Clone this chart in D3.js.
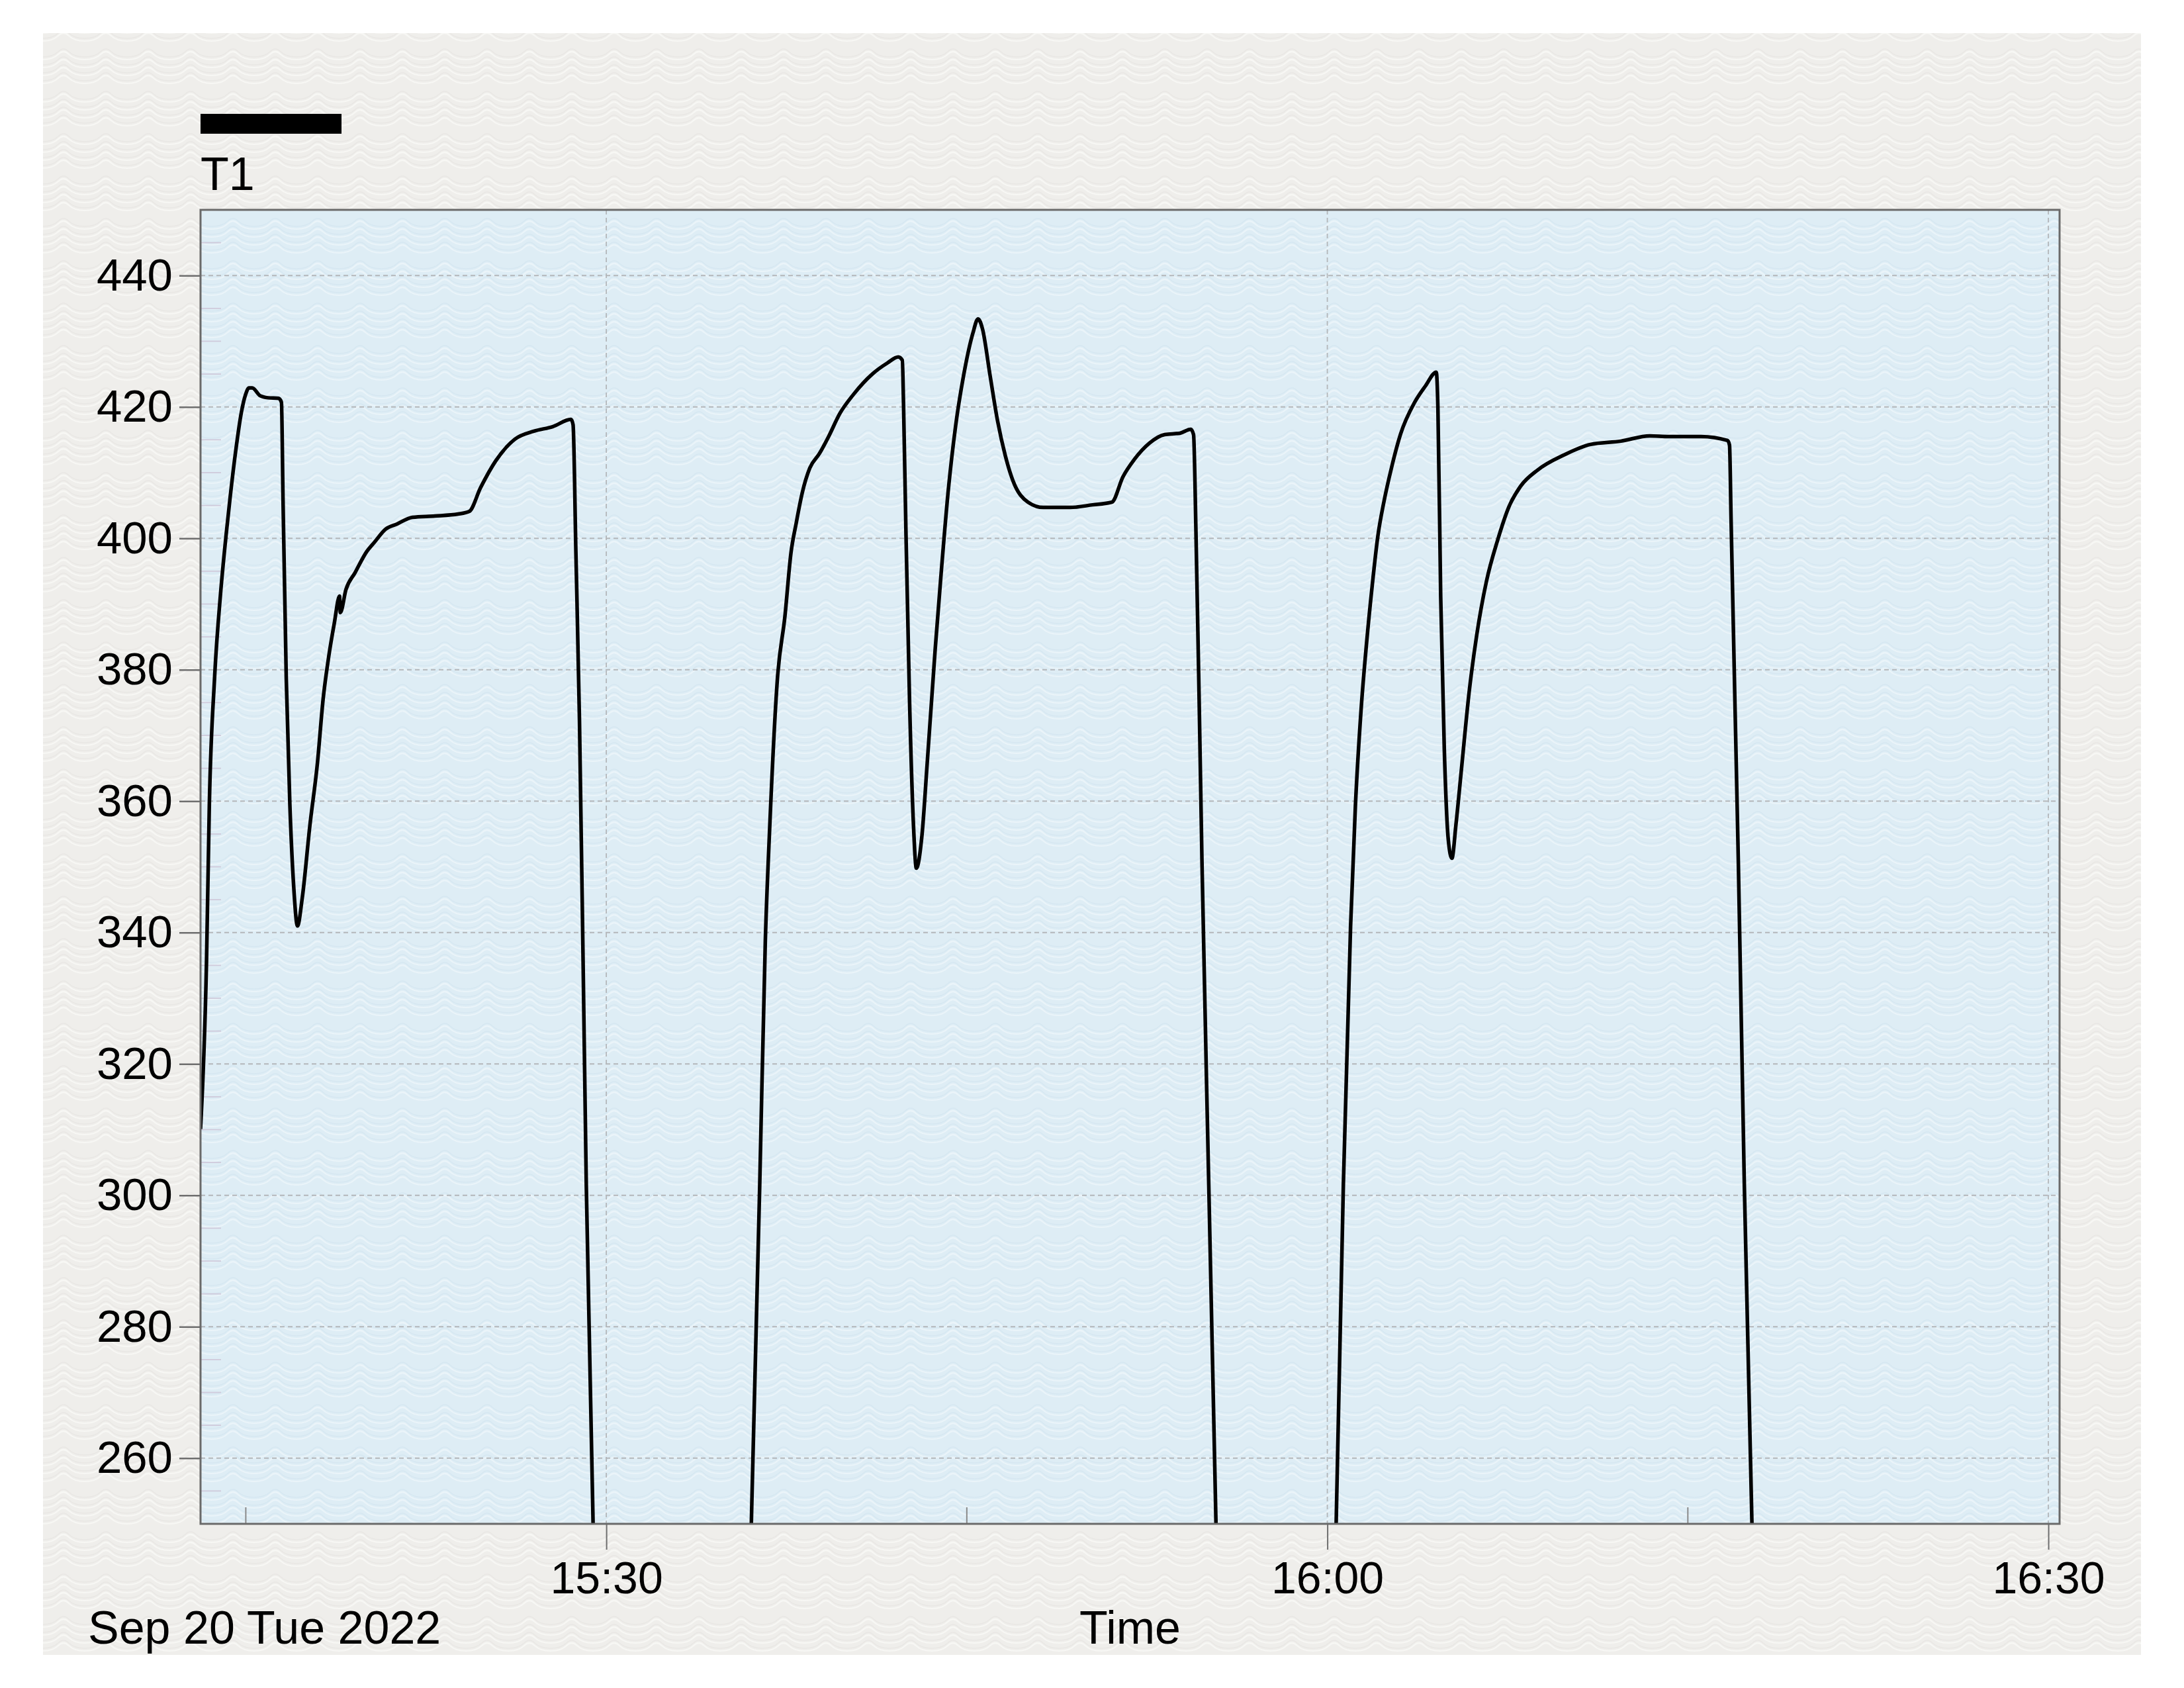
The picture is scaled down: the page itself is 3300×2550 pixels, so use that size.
<!DOCTYPE html>
<html>
<head>
<meta charset="utf-8">
<script src="https://cdn.jsdelivr.net/npm/d3@7"></script>
<style>
  html, body { margin: 0; padding: 0; background: #ffffff; }
  svg { display: block; }
  text { font-family: "Liberation Sans", Arial, "DejaVu Sans", sans-serif; fill: #000; }
</style>
</head>
<body>
<svg id="chart" width="3300" height="2550"></svg>
<script>
// ---------------- DATA ----------------
const chartDate = "2022-09-20";
const seriesName = "T1";
const dateLabel = "Sep 20 Tue 2022";
const axisTitle = "Time";

// sample times (HH:MM:SS); null value = gap (signal below range)
const times = [
  "15:13:07","15:13:22","15:13:29","15:13:42","15:13:57","15:14:11","15:14:21","15:14:35",
  "15:14:49","15:14:59","15:15:08","15:15:16","15:15:36","15:15:55","15:16:22","15:16:29",
  "15:16:33","15:16:41","15:16:50","15:17:00","15:17:09","15:17:21","15:17:40","15:17:59",
  "15:18:13","15:18:27","15:18:41","15:18:54","15:18:56","15:19:10","15:19:33","15:20:02",
  "15:20:21","15:20:49","15:21:18","15:21:56","15:22:52","15:23:50","15:24:18","15:24:46",
  "15:25:24","15:26:12","15:26:59","15:27:46","15:28:32","15:28:37","15:28:44","15:28:53",
  "15:29:02","15:29:10","15:29:27","15:32:00",
  "15:36:02","15:36:23","15:36:37","15:36:48","15:37:07","15:37:26","15:37:41","15:37:54",
  "15:38:09","15:38:28","15:38:52","15:39:15","15:39:43","15:40:17","15:41:04","15:41:42",
  "15:42:09","15:42:19","15:42:22","15:42:28","15:42:37","15:42:47","15:42:54","15:43:08",
  "15:43:21","15:43:41","15:43:55","15:44:14","15:44:32","15:44:52","15:45:15","15:45:28",
  "15:45:39","15:45:58","15:46:17","15:46:36","15:46:55","15:47:33","15:48:11","15:49:18",
  "15:50:14","15:51:02","15:51:30","15:51:58","15:52:36","15:53:14","15:53:52","15:54:19",
  "15:54:26","15:54:32","15:54:40","15:54:47","15:55:04","15:55:22","15:58:00",
  "16:00:22","16:00:40","16:00:58","16:01:10","16:01:24","16:01:38","16:01:52","16:02:06",
  "16:02:21","16:02:40","16:03:03","16:03:37","16:04:05","16:04:32","16:04:36","16:04:43",
  "16:04:52","16:05:02","16:05:11","16:05:21","16:05:35","16:05:54","16:06:13","16:06:37",
  "16:07:05","16:07:34","16:08:02","16:08:45","16:09:51","16:10:57","16:12:13","16:13:25",
  "16:14:12","16:15:33","16:16:39","16:16:44","16:16:48","16:16:58","16:17:06","16:17:21",
  "16:17:40"
];
const values = [
  310.1,335.8,359.5,378.7,391.6,400.6,406.3,413.4,
  419.2,421.8,422.9,422.9,421.7,421.4,421.3,420.7,
  405.7,378.7,359.5,346.6,341.0,345.3,356.3,365.9,
  375.5,382.0,387.1,391.2,388.7,392.2,394.8,398.0,
  399.4,401.4,402.2,403.2,403.4,403.7,404.1,407.7,
  411.8,415.1,416.3,417.0,418.1,417.3,398.0,372.3,
  335.8,301.6,250.0,null,
  250.0,301.6,338.8,356.1,378.5,388.2,397.8,402.3,
  406.9,410.7,412.9,415.5,419.0,421.9,425.0,426.7,
  427.6,427.1,420.4,401.0,375.3,356.1,349.8,354.8,
  365.7,383.1,394.0,407.5,417.1,424.8,431.2,433.4,
  431.9,424.8,417.8,412.6,408.8,405.5,404.7,404.7,
  405.1,405.5,409.4,412.0,414.5,415.8,416.0,416.6,
  415.8,401.0,375.3,350.9,301.6,250.0,null,
  250.0,301.6,340.9,359.2,373.7,384.1,392.8,400.3,
  405.5,410.7,415.9,420.6,423.2,425.3,420.0,391.1,
  367.9,354.1,351.3,356.4,365.0,376.6,385.3,393.4,
  399.7,404.9,407.9,410.4,412.7,414.3,414.8,415.6,
  415.5,415.5,414.9,414.2,402.6,373.7,350.9,301.6,
  250.0
];

const xDomain = ["15:13:07", "16:30:28"];
const xMajorTicks = ["15:30", "16:00", "16:30"];
const xMinorTicks = ["15:15", "15:45", "16:15"];
const yDomain = [250, 450];
const yMajorTicks = [260, 280, 300, 320, 340, 360, 380, 400, 420, 440];
const yMinorStep = 5;

// ---------------- LAYOUT ----------------
const panel = { x: 65, y: 50, w: 3170, h: 2450 };
const plot = { left: 303, top: 317, right: 3112, bottom: 2302 };

const parseT = s => {
  const p = s.split(":").map(Number);
  return new Date(2022, 8, 20, p[0], p[1], p[2] || 0);
};

const data = times.map((t, i) => ({ t: parseT(t), v: values[i] }));

const svg = d3.select("#chart");
const defs = svg.append("defs");

// textured backgrounds (wave pattern)
function wavePattern(id, base, light, dark) {
  const p = defs.append("pattern").attr("id", id)
    .attr("patternUnits", "userSpaceOnUse")
    .attr("width", 64).attr("height", 64);
  p.append("rect").attr("width", 64).attr("height", 64).attr("fill", base);
  const arch = (yOff, col, op, sw) => {
    p.append("path")
      .attr("d", `M0,${yOff + 14} Q16,${yOff + 14} 24,${yOff + 6} Q32,${yOff - 2} 40,${yOff + 6} Q48,${yOff + 14} 64,${yOff + 14}`)
      .attr("fill", "none").attr("stroke", col).attr("stroke-opacity", op).attr("stroke-width", sw);
  };
  for (let k = 0; k < 4; k++) {
    arch(8 + k * 12, dark, 0.35, 1.4);
    arch(12 + k * 12, light, 0.7, 2.2);
  }
  return `url(#${id})`;
}
const greyFill = wavePattern("greyTex", "#efeeeb", "#fbfbf9", "#dcdad6");
const blueFill = wavePattern("blueTex", "#deedf5", "#f0f7fb", "#c5dde9");

svg.append("rect").attr("x", panel.x).attr("y", panel.y)
  .attr("width", panel.w).attr("height", panel.h).attr("fill", greyFill);

svg.append("rect").attr("x", plot.left).attr("y", plot.top)
  .attr("width", plot.right - plot.left).attr("height", plot.bottom - plot.top)
  .attr("fill", blueFill);

// ---------------- SCALES ----------------
const x = d3.scaleTime().domain(xDomain.map(parseT)).range([plot.left, plot.right]);
const y = d3.scaleLinear().domain(yDomain).range([plot.bottom, plot.top]);

const majX = xMajorTicks.map(parseT);
const minX = xMinorTicks.map(parseT);
const minY = d3.range(yDomain[0], yDomain[1] + 0.001, yMinorStep).filter(v => !yMajorTicks.includes(v) && v > yDomain[0] && v < yDomain[1]);

// grid lines
const grid = svg.append("g");
grid.selectAll(".gy").data(yMajorTicks).join("line")
  .attr("x1", plot.left).attr("x2", plot.right)
  .attr("y1", d => y(d)).attr("y2", d => y(d))
  .attr("stroke", "#b4b7ba").attr("stroke-width", 1.8).attr("stroke-dasharray", "7,5");
grid.selectAll(".gx").data(majX).join("line")
  .attr("x1", d => x(d)).attr("x2", d => x(d))
  .attr("y1", plot.top).attr("y2", plot.bottom)
  .attr("stroke", "#b4b7ba").attr("stroke-width", 1.8).attr("stroke-dasharray", "7,5");

// minor inner ticks
grid.selectAll(".my").data(minY).join("line")
  .attr("x1", plot.left).attr("x2", plot.left + 31)
  .attr("y1", d => y(d)).attr("y2", d => y(d))
  .attr("stroke", "#cfcadb").attr("stroke-width", 1.8);
grid.selectAll(".mx").data(minX).join("line")
  .attr("x1", d => x(d)).attr("x2", d => x(d))
  .attr("y1", plot.bottom).attr("y2", plot.bottom - 25)
  .attr("stroke", "#8a8a8a").attr("stroke-width", 2);

// ---------------- AXES ----------------
const yAxis = d3.axisLeft(y).tickValues(yMajorTicks).tickSize(32).tickPadding(10)
  .tickFormat(d3.format("d"));
const gy = svg.append("g").attr("transform", `translate(${plot.left},0)`).call(yAxis);
gy.select(".domain").remove();
gy.selectAll(".tick line").attr("stroke", "#6e6e6e").attr("stroke-width", 2.5);
gy.selectAll(".tick text").attr("font-size", 69).attr("dy", "0.32em")
  .style("font-family", '"Liberation Sans", Arial, sans-serif').attr("fill", "#000");

const xAxis = d3.axisBottom(x).tickValues(majX).tickSize(39).tickPadding(18)
  .tickFormat(d3.timeFormat("%H:%M"));
const gx = svg.append("g").attr("transform", `translate(0,${plot.bottom})`).call(xAxis);
gx.select(".domain").remove();
gx.selectAll(".tick line").attr("stroke", "#6e6e6e").attr("stroke-width", 2);
gx.selectAll(".tick text").attr("font-size", 68).attr("dy", "0.71em")
  .style("font-family", '"Liberation Sans", Arial, sans-serif').attr("fill", "#000");

// ---------------- LINE ----------------
svg.append("clipPath").attr("id", "plotClip").append("rect")
  .attr("x", plot.left).attr("y", plot.top - 4)
  .attr("width", plot.right - plot.left).attr("height", plot.bottom - plot.top + 10);

const line = d3.line()
  .defined(d => d.v !== null)
  .curve(d3.curveMonotoneX)
  .x(d => x(d.t)).y(d => y(d.v));

svg.append("path").datum(data)
  .attr("clip-path", "url(#plotClip)")
  .attr("d", line)
  .attr("fill", "none").attr("stroke", "#000")
  .attr("stroke-width", 5.5).attr("stroke-linejoin", "round");

// plot frame
svg.append("rect").attr("x", plot.left).attr("y", plot.top)
  .attr("width", plot.right - plot.left).attr("height", plot.bottom - plot.top)
  .attr("fill", "none").attr("stroke", "#6a6a6a").attr("stroke-width", 3);

// ---------------- LEGEND & LABELS ----------------
svg.append("rect").attr("x", 303).attr("y", 172).attr("width", 213).attr("height", 30).attr("fill", "#000");
svg.append("text").attr("x", 303).attr("y", 287).attr("font-size", 70).text(seriesName);

svg.append("text").attr("x", 133).attr("y", 2483).attr("font-size", 70).text(dateLabel);
svg.append("text").attr("x", (plot.left + plot.right) / 2).attr("y", 2483)
  .attr("text-anchor", "middle").attr("font-size", 70).text(axisTitle);
</script>
</body>
</html>
